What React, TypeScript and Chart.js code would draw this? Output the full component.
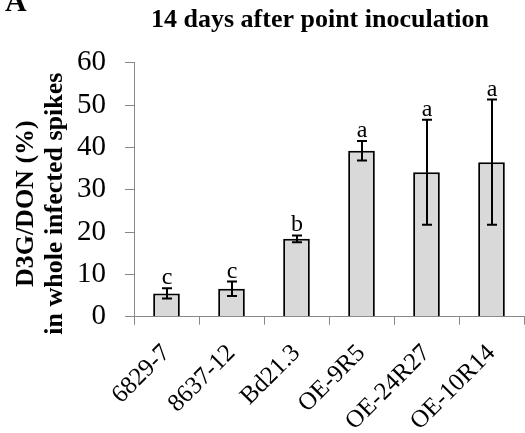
import React, { useEffect, useRef } from 'react';
import { Chart, registerables } from 'chart.js';

Chart.register(...registerables);

const categories = ['6829-7', '8637-12', 'Bd21.3', 'OE-9R5', 'OE-24R27', 'OE-10R14'];
const means = [5.5, 6.6, 18.4, 39.2, 34.1, 36.5];
const errors = [1.2, 1.7, 0.8, 2.3, 12.4, 14.8];
const letters = ['c', 'c', 'b', 'a', 'a', 'a'];
const yMin = 0;
const yMax = 60;
const yStep = 10;
const titleText = '14 days after point inoculation';
const yTitleLines = ['D3G/DON (%)', 'in whole infected spikes'];
const panelLabel = 'A';

const SERIF = '"Liberation Serif", "Times New Roman", Times, serif';
const AXIS_GREY = '#888888';

const errorBarPlugin = {
  id: 'errorBars',
  afterDatasetsDraw(chart: any) {
    const { ctx } = chart;
    const y = chart.scales.y;
    const meta = chart.getDatasetMeta(0);
    ctx.save();
    ctx.strokeStyle = '#000';
    ctx.lineWidth = 2;
    ctx.fillStyle = '#000';
    ctx.font = `24px ${SERIF}`;
    ctx.textAlign = 'center';
    ctx.textBaseline = 'alphabetic';
    meta.data.forEach((bar: any, i: number) => {
      const cx = Math.round(bar.x);
      const top = y.getPixelForValue(means[i] + errors[i]);
      const bot = y.getPixelForValue(means[i] - errors[i]);
      ctx.beginPath();
      ctx.moveTo(cx, top);
      ctx.lineTo(cx, bot);
      ctx.moveTo(cx - 5, top);
      ctx.lineTo(cx + 5, top);
      ctx.moveTo(cx - 5, bot);
      ctx.lineTo(cx + 5, bot);
      ctx.stroke();
      ctx.fillText(letters[i], cx, top - 4);
    });
    ctx.restore();
  },
};

const textPlugin = {
  id: 'texts',
  afterDraw(chart: any) {
    const { ctx, chartArea } = chart;
    ctx.save();
    ctx.fillStyle = '#000';
    ctx.font = `bold 26px ${SERIF}`;
    ctx.textAlign = 'center';
    ctx.textBaseline = 'alphabetic';
    ctx.fillText(titleText, (chartArea.left + chartArea.right) / 2 - 9, 27);
    ctx.font = `bold 30px ${SERIF}`;
    ctx.textAlign = 'left';
    ctx.fillText(panelLabel, 5, 11);
    const cy = (chartArea.top + chartArea.bottom) / 2 + 14;
    ctx.translate(0, cy);
    ctx.rotate(-Math.PI / 2);
    ctx.font = `bold 26px ${SERIF}`;
    ctx.textAlign = 'center';
    ctx.fillText(yTitleLines[0], 0, 33);
    ctx.fillText(yTitleLines[1], 0, 62);
    ctx.restore();
  },
};

export default function App() {
  const ref = useRef<HTMLCanvasElement | null>(null);
  useEffect(() => {
    if (!ref.current) return;
    const chart = new Chart(ref.current, {
      type: 'bar',
      data: {
        labels: categories,
        datasets: [
          {
            data: means,
            backgroundColor: '#d9d9d9',
            borderColor: '#000000',
            borderWidth: 2,
            categoryPercentage: 1,
            barPercentage: 0.41,
          },
        ],
      },
      options: {
        responsive: false,
        animation: false,
        events: [],
        layout: { padding: { top: 62.7, right: 1, left: 0, bottom: 0 } },
        plugins: { legend: { display: false }, tooltip: { enabled: false }, title: { display: false } },
        scales: {
          x: {
            offset: true,
            grid: {
              offset: true,
              drawOnChartArea: false,
              drawTicks: true,
              tickLength: 8,
              color: AXIS_GREY,
            },
            border: { display: true, color: AXIS_GREY, width: 1 },
            ticks: {
              color: '#000',
              font: { family: SERIF, size: 25 },
              minRotation: 45,
              maxRotation: 45,
              autoSkip: false,
              padding: 14,
            },
            afterFit(scale: any) {
              scale.height = 116.3;
              scale.paddingLeft = 0;
              scale.paddingRight = 0;
            },
          },
          y: {
            min: yMin,
            max: yMax,
            grid: {
              drawOnChartArea: false,
              drawTicks: true,
              tickLength: 9,
              color: AXIS_GREY,
            },
            border: { display: true, color: AXIS_GREY, width: 1 },
            ticks: {
              stepSize: yStep,
              color: '#000',
              font: { family: SERIF, size: 29 },
              padding: 19,
            },
            afterFit(scale: any) {
              scale.width = 134;
            },
          },
        },
      },
      plugins: [errorBarPlugin, textPlugin],
    });
    return () => chart.destroy();
  }, []);
  return (
    <div style={{ position: 'fixed', left: 0, top: 0, width: 525, height: 433, background: '#fff' }}>
      <canvas ref={ref} width={525} height={433} />
    </div>
  );
}
